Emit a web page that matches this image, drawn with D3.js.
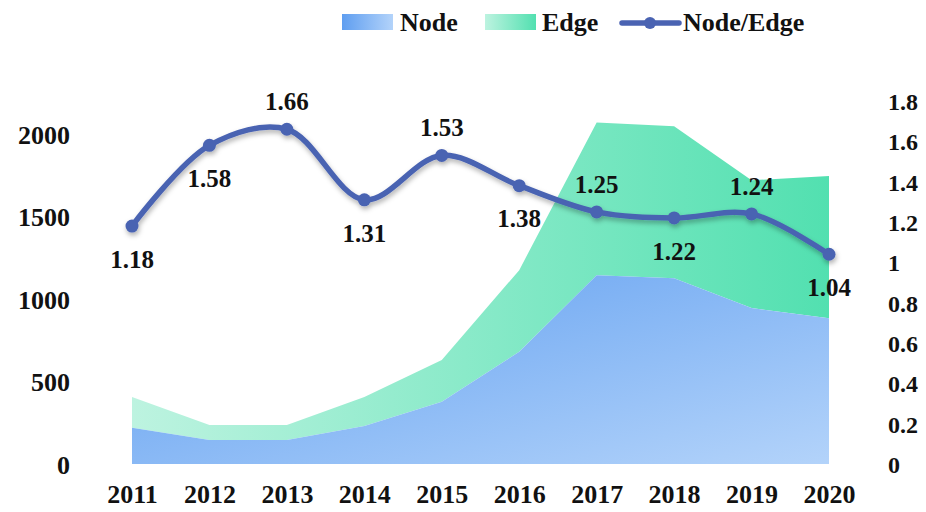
<!DOCTYPE html>
<html><head><meta charset="utf-8">
<script src="https://cdn.jsdelivr.net/npm/d3@7"></script>
<style>body{margin:0;background:#fff}svg{display:block}text{font-family:"Liberation Serif","Times New Roman",serif;font-weight:bold;fill:#111}</style>
</head><body>
<script>
const years = ["2011","2012","2013","2014","2015","2016","2017","2018","2019","2020"];
const nodeVals = [220,145,145,230,377,680,1144,1126,945,884];
const edgeVals = [186,91,91,176,253,495,926,921,775,861];
const ratioVals = [1.18,1.58,1.66,1.31,1.53,1.38,1.25,1.22,1.24,1.04];
const labelPos = ["below","below","above","below","above","below","above","below","above","below"];
const leftTicks = [0,500,1000,1500,2000];
const rightTicks = [0,0.2,0.4,0.6,0.8,1,1.2,1.4,1.6,1.8];

const W=926,H=512;
const svg=d3.select("body").append("svg").attr("width",W).attr("height",H);
const defs=svg.append("defs");
const gN=defs.append("linearGradient").attr("id","gNode").attr("x1","0").attr("y1","0").attr("x2","1").attr("y2","1");
gN.append("stop").attr("offset","0").attr("stop-color","#5f9ef0");
gN.append("stop").attr("offset","1").attr("stop-color","#b3d3fa");
const gE=defs.append("linearGradient").attr("id","gEdge").attr("x1","0").attr("y1","0").attr("x2","1").attr("y2","0");
gE.append("stop").attr("offset","0").attr("stop-color","#bdf3e0");
gE.append("stop").attr("offset","1").attr("stop-color","#52e0b0");
const gNL=defs.append("linearGradient").attr("id","gNodeL").attr("x1","0").attr("y1","0").attr("x2","1").attr("y2","0");
gNL.append("stop").attr("offset","0").attr("stop-color","#5f9ef0");
gNL.append("stop").attr("offset","1").attr("stop-color","#b3d3fa");
const gEL=defs.append("linearGradient").attr("id","gEdgeL").attr("x1","0").attr("y1","0").attr("x2","1").attr("y2","0");
gEL.append("stop").attr("offset","0").attr("stop-color","#bdf3e0");
gEL.append("stop").attr("offset","1").attr("stop-color","#52e0b0");
const f=defs.append("filter").attr("id","shadow").attr("x","-10%").attr("y","-10%").attr("width","120%").attr("height","130%");
f.append("feDropShadow").attr("dx",1).attr("dy",3).attr("stdDeviation",2.5).attr("flood-color","#000").attr("flood-opacity",0.3);

const x=d3.scalePoint().domain(years).range([132,829]);
const yL=d3.scaleLinear().domain([0,2000]).range([464,134]);
const yR=d3.scaleLinear().domain([0,1.8]).range([464,101]);

const stacked=years.map((y,i)=>({year:y,node:nodeVals[i],total:nodeVals[i]+edgeVals[i]}));
const areaEdge=d3.area().x(d=>x(d.year)).y0(d=>yL(d.node)).y1(d=>yL(d.total));
const areaNode=d3.area().x(d=>x(d.year)).y0(yL(0)).y1(d=>yL(d.node));
svg.append("path").datum(stacked).attr("d",areaEdge).attr("fill","url(#gEdge)");
svg.append("path").datum(stacked).attr("d",areaNode).attr("fill","url(#gNode)");

// left axis
const axL=d3.axisLeft(yL).tickValues(leftTicks).tickSize(0).tickPadding(0).tickFormat(d3.format("d"));
const gl=svg.append("g").attr("transform","translate(70,0)").call(axL);
gl.select(".domain").remove();
gl.selectAll("text").style("font-size","26px").attr("dy","0.35em");
// right axis
const axR=d3.axisRight(yR).tickValues(rightTicks).tickSize(0).tickPadding(0).tickFormat(d=>String(d));
const gr=svg.append("g").attr("transform","translate(888,0)").call(axR);
gr.select(".domain").remove();
gr.selectAll("text").style("font-size","24px").attr("dy","0.35em");
// bottom axis
const axB=d3.axisBottom(x).tickSize(0).tickPadding(0);
const gb=svg.append("g").attr("transform","translate(0,494)").call(axB);
gb.select(".domain").remove();
gb.selectAll("text").style("font-size","26px").attr("dy","0.35em");

// line
const pts=years.map((y,i)=>({year:y,v:ratioVals[i],pos:labelPos[i]}));
const line=d3.line().x(d=>x(d.year)).y(d=>yR(d.v)).curve(d3.curveCatmullRom.alpha(0.5));
const lg=svg.append("g").attr("filter","url(#shadow)");
lg.append("path").datum(pts).attr("d",line).attr("fill","none").attr("stroke","#4a63b2").attr("stroke-width",5.5).attr("stroke-linecap","round");
lg.selectAll("circle").data(pts).join("circle").attr("cx",d=>x(d.year)).attr("cy",d=>yR(d.v)).attr("r",6.5).attr("fill","#4a63b2");
svg.selectAll("text.lbl").data(pts).join("text").attr("class","lbl")
  .attr("x",d=>x(d.year)).attr("y",d=>yR(d.v)+(d.pos==="below"?33:-28))
  .attr("text-anchor","middle").attr("dy","0.35em").style("font-size","25px").text(d=>d.v.toFixed(2));

// legend
const leg=svg.append("g");
leg.append("rect").attr("x",342).attr("y",14).attr("width",51).attr("height",16).attr("fill","url(#gNodeL)");
leg.append("text").attr("x",400).attr("y",22).attr("dy","0.35em").style("font-size","26px").text("Node");
leg.append("rect").attr("x",485).attr("y",14).attr("width",51).attr("height",16).attr("fill","url(#gEdgeL)");
leg.append("text").attr("x",542).attr("y",22).attr("dy","0.35em").style("font-size","26px").text("Edge");
leg.append("line").attr("x1",622).attr("x2",679).attr("y1",23).attr("y2",23).attr("stroke","#4a63b2").attr("stroke-width",5.5).attr("stroke-linecap","round");
leg.append("circle").attr("cx",650).attr("cy",23).attr("r",6).attr("fill","#4a63b2");
leg.append("text").attr("x",683).attr("y",22).attr("dy","0.35em").style("font-size","26px").text("Node/Edge");
</script>
</body></html>
